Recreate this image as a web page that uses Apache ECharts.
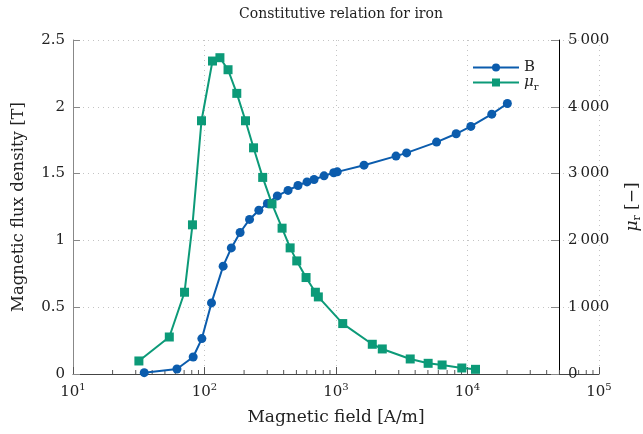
<!DOCTYPE html>
<html>
<head>
<meta charset="utf-8">
<script src="https://cdn.jsdelivr.net/npm/echarts@6/dist/echarts.min.js"></script>
<style>
html,body{margin:0;padding:0;background:#fff;}
#chart{width:643px;height:434px;}
</style>
</head>
<body>
<div id="chart"></div>
<script>
// ---- data ----
const titleText = 'Constitutive relation for iron';
const bField = [34.8, 61.7, 82, 95.5, 113, 138.6, 160, 186.6, 220, 259, 301, 358, 432, 514, 602, 681, 811, 961, 1023, 1633, 2860, 3444, 5820, 8200, 10600, 15300, 20100];
const bValues = [0.01, 0.037, 0.127, 0.265, 0.532, 0.807, 0.944, 1.059, 1.157, 1.226, 1.276, 1.333, 1.374, 1.411, 1.438, 1.456, 1.483, 1.506, 1.513, 1.563, 1.631, 1.655, 1.736, 1.798, 1.853, 1.945, 2.025];
const muField = [31.7, 54, 70.5, 81, 94.9, 115, 131, 151, 176, 205, 236, 277, 326, 389, 448, 503, 592, 697, 734, 1125, 1888, 2249, 3668, 5020, 6410, 9050, 11500];
const muValues = [195, 554, 1224, 2233, 3791, 4685, 4735, 4555, 4201, 3791, 3386, 2943, 2547, 2183, 1888, 1693, 1444, 1224, 1154, 755, 445, 375, 225, 160, 135, 90, 70];
const minorTickValues = [20,30,40,50,60,70,80,90,200,300,400,500,600,700,800,900,2000,3000,4000,5000,6000,7000,8000,9000,20000,30000,40000,50000,60000,70000,80000,90000];
const leftTicks = ['0', '0.5', '1', '1.5', '2', '2.5'];

const FONT = 'DejaVu Serif';
const BLUE = '#0b5cad';
const GREEN = '#0c9a78';
const GRID_COLOR = '#c4c4c4';

const chart = echarts.init(document.getElementById('chart'), null, {renderer: 'canvas'});
const tickRich = {
  base: {fontFamily: FONT, fontSize: 15, color: '#222', lineHeight: 20},
  sup: {fontFamily: FONT, fontSize: 10, color: '#222', lineHeight: 10, verticalAlign: 'top'}
};
const nameRich = {
  mu: {fontFamily: FONT, fontSize: 17, color: '#222', lineHeight: 20, fontStyle: 'italic'},
  sub: {fontFamily: FONT, fontSize: 11, color: '#222', lineHeight: 11, verticalAlign: 'bottom'},
  t: {fontFamily: FONT, fontSize: 17, color: '#222', lineHeight: 20}
};
const legendRich = {
  mu: {fontFamily: FONT, fontSize: 15, color: '#222', lineHeight: 14, fontStyle: 'italic'},
  sub: {fontFamily: FONT, fontSize: 10, color: '#222', lineHeight: 8, verticalAlign: 'bottom', padding: [0, 0, -3, 0]},
  t: {fontFamily: FONT, fontSize: 15, color: '#222', lineHeight: 14}
};

const option = {
  animation: false,
  backgroundColor: '#fff',
  title: {
    text: titleText,
    left: 336, top: 2, textAlign: 'center',
    textStyle: {fontFamily: FONT, fontSize: 14, fontWeight: 'normal', color: '#222'}
  },
  legend: {
    orient: 'vertical',
    left: 467, top: 55,
    itemWidth: 46, itemHeight: 10, itemGap: 0,
    data: ['B', 'μr'],
    formatter: function (n) { return n === 'B' ? '{t|B}' : '{mu|μ}{sub|r}'; },
    textStyle: {fontFamily: FONT, fontSize: 15, color: '#222', rich: legendRich}
  },
  grid: {left: 73, right: 44, top: 40, bottom: 60, containLabel: false, outerBoundsMode: 'none'},
  xAxis: {
    type: 'log', logBase: 10, min: 10, max: 100000,
    name: 'Magnetic field [A/m]', nameLocation: 'middle', nameGap: 35,
    nameTextStyle: {fontFamily: FONT, fontSize: 17, color: '#222'},
    axisLine: {show: true, lineStyle: {color: '#444', width: 1}},
    axisTick: {show: true, inside: true, length: 7, lineStyle: {color: '#555'}},
    axisLabel: {
      margin: 8,
      formatter: function (v) { return '{base|10}{sup|' + Math.round(Math.log10(v)) + '}'; },
      rich: tickRich
    },
    splitLine: {show: true, lineStyle: {color: GRID_COLOR, type: [1, 4], width: 1}}
  },
  yAxis: [{
    type: 'value', min: 0, max: 2.5, interval: 0.5,
    name: 'Magnetic flux density [T]', nameLocation: 'middle', nameGap: 46, nameRotate: 90,
    nameTextStyle: {fontFamily: FONT, fontSize: 16.5, color: '#222'},
    axisLine: {show: true, lineStyle: {color: '#888'}},
    axisTick: {show: true, inside: true, length: 7, lineStyle: {color: '#888'}},
    axisLabel: {
      margin: 8, fontFamily: FONT, fontSize: 15, color: '#222',
      formatter: function (v) { return leftTicks[Math.round(v / 0.5)]; }
    },
    splitLine: {show: true, lineStyle: {color: GRID_COLOR, type: [1, 4], width: 1}}
  }, {
    type: 'value', min: 0, max: 5000, interval: 1000, position: 'right', offset: -40,
    name: '{mu|μ}{sub|r}{t| [−]}', nameLocation: 'middle', nameGap: 64, nameRotate: 90,
    nameTextStyle: {fontFamily: FONT, fontSize: 17, color: '#222', rich: nameRich},
    axisLine: {show: true, lineStyle: {color: '#000'}},
    axisTick: {show: true, inside: true, length: 8, lineStyle: {color: '#888'}},
    axisLabel: {
      margin: 9, fontFamily: FONT, fontSize: 15, color: '#222',
      formatter: function (v) { return v >= 1000 ? Math.floor(v / 1000) + '\u2009' + String(v % 1000).padStart(3, '0') : String(v); }
    },
    splitLine: {show: false}
  }],
  series: [{
    type: 'custom', name: 'minor', silent: true, clip: false, z: 1,
    xAxisIndex: 0, yAxisIndex: 0,
    data: minorTickValues.map(v => [v, 0]),
    renderItem: function (params, api) {
      const p = api.coord([api.value(0), 0]);
      return {type: 'line', shape: {x1: p[0], y1: p[1], x2: p[0], y2: p[1] - 4},
              style: {stroke: '#555', lineWidth: 1}};
    }
  }, {
    type: 'line', name: 'B', yAxisIndex: 0,
    data: bField.map((h, i) => [h, bValues[i]]),
    symbol: 'circle', symbolSize: 9,
    lineStyle: {color: BLUE, width: 2},
    itemStyle: {color: BLUE},
    z: 3
  }, {
    type: 'line', name: 'μr', yAxisIndex: 1,
    data: muField.map((h, i) => [h, muValues[i]]),
    symbol: 'rect', symbolSize: 9,
    lineStyle: {color: GREEN, width: 2},
    itemStyle: {color: GREEN},
    z: 4
  }]
};
chart.setOption(option);
</script>
</body>
</html>
